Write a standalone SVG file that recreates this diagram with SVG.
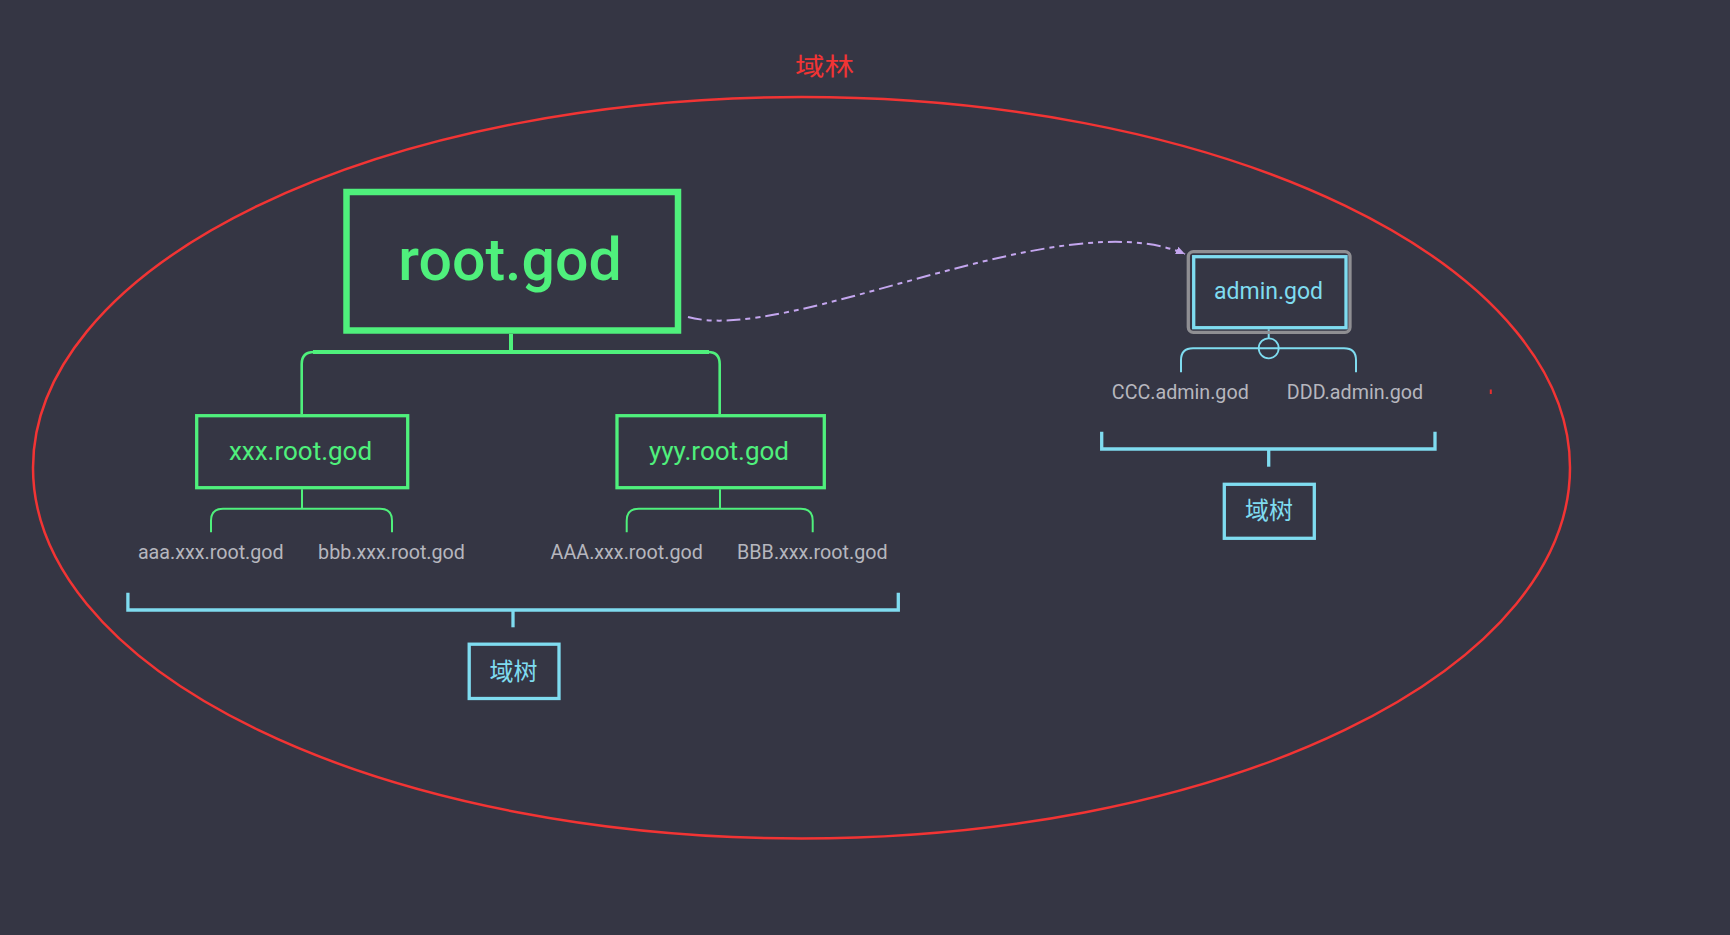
<svg xmlns="http://www.w3.org/2000/svg" width="1730" height="935" viewBox="0 0 1730 935">
  <defs>
    <style>
      .bg { fill: #353644; }
      .g-box { fill: none; stroke: #4ff07c; stroke-width: 3.3; }
      .g-line { fill: none; stroke: #4ff07c; stroke-width: 2; }
      .c-box { fill: none; stroke: #7fdcf0; stroke-width: 3.3; }
      .c-line { fill: none; stroke: #7fdcf0; stroke-width: 2; }
      .c-thick { fill: none; stroke: #7fdcf0; stroke-width: 3.3; }
      .g-text { font-family: Roboto, "Liberation Sans", sans-serif; fill: #4ff07c; text-anchor: middle; }
      .c-text { font-family: Roboto, "Liberation Sans", sans-serif; fill: #7fdcf0; text-anchor: middle; }
      .leaf { font-family: Roboto, "Liberation Sans", sans-serif; font-size: 19.7px; fill: #b6b6be; text-anchor: middle; }
      .cjk { font-family: "Noto Sans CJK SC", sans-serif; text-anchor: middle; }
    </style>
    <marker id="arrow" markerUnits="userSpaceOnUse" markerWidth="12" markerHeight="12" refX="9" refY="4" orient="auto">
      <path d="M0,0 L9,4 L0,8 Z" fill="#c4a6ef"/>
    </marker>
  </defs>

  <rect class="bg" x="0" y="0" width="1730" height="935"/>

  <!-- forest ellipse -->
  <g id="forest">
    <ellipse cx="801.5" cy="467.8" rx="768.5" ry="370.7" fill="none" stroke="#f23434" stroke-width="2.5"/>
    <text class="cjk" x="824.5" y="75" font-size="24" fill="#f23434" textLength="59" lengthAdjust="spacingAndGlyphs">域林</text>
    <rect x="1489.8" y="389.5" width="2" height="4.5" fill="#e83030"/>
  </g>

  <!-- connectors -->
  <g id="connectors">
    <!-- root to children -->
    <line x1="511" y1="334" x2="511" y2="352" stroke="#4ff07c" stroke-width="4"/>
    <line x1="313" y1="352" x2="709" y2="352" stroke="#4ff07c" stroke-width="4"/>
    <path d="M301.7,414 V364 Q301.7,352 314,352" fill="none" stroke="#4ff07c" stroke-width="2.6"/>
    <path d="M719.7,414 V364 Q719.7,352 708,352" fill="none" stroke="#4ff07c" stroke-width="2.6"/>

    <!-- xxx leaves -->
    <line class="g-line" x1="302" y1="489.3" x2="302" y2="508.7"/>
    <path class="g-line" d="M211,532.3 V520.7 Q211,508.7 223,508.7 H380 Q392,508.7 392,520.7 V532.3"/>

    <!-- yyy leaves -->
    <line class="g-line" x1="720" y1="489.3" x2="720" y2="508.7"/>
    <path class="g-line" d="M626.7,532.3 V520.7 Q626.7,508.7 638.7,508.7 H800.7 Q812.7,508.7 812.7,520.7 V532.3"/>

    <!-- admin leaves -->
    <line class="c-line" x1="1268.7" y1="329.3" x2="1268.7" y2="338.3"/>
    <path class="c-line" d="M1181,372.3 V360.3 Q1181,348.3 1193,348.3 H1344 Q1356,348.3 1356,360.3 V372.3"/>
    <circle cx="1268.7" cy="348.3" r="10" fill="none" stroke="#7fdcf0" stroke-width="1.8"/>

    <!-- left tree brace -->
    <path class="c-thick" d="M127.9,592.7 V610 H898.3 V592.7"/>
    <line class="c-thick" x1="513" y1="610" x2="513" y2="627.3"/>

    <!-- right tree brace -->
    <path class="c-thick" d="M1101.7,431.7 V449 H1435 V431.7"/>
    <line class="c-thick" x1="1268.7" y1="449" x2="1268.7" y2="466.7"/>

    <!-- dashed trust link -->
    <path d="M688,317 C790,345 1060,200 1185,254" fill="none" stroke="#c4a6ef" stroke-width="2" stroke-dasharray="14 5 5 5 5 5" marker-end="url(#arrow)"/>
  </g>

  <!-- nodes -->
  <g id="root-god">
    <rect x="346.5" y="192" width="331.5" height="138.5" fill="none" stroke="#4ff07c" stroke-width="6.5"/>
    <text class="g-text" x="510" y="280" font-size="59" font-weight="500">root.god</text>
  </g>

  <g id="xxx-root-god">
    <rect class="g-box" x="196.7" y="415.7" width="211" height="72"/>
    <text class="g-text" x="300.5" y="460" font-size="26">xxx.root.god</text>
  </g>

  <g id="yyy-root-god">
    <rect class="g-box" x="617" y="415.7" width="207.3" height="72"/>
    <text class="g-text" x="719" y="460" font-size="26">yyy.root.god</text>
  </g>

  <g id="leaf-aaa"><text class="leaf" x="210.8" y="559.3">aaa.xxx.root.god</text></g>
  <g id="leaf-bbb"><text class="leaf" x="391.5" y="559.3">bbb.xxx.root.god</text></g>
  <g id="leaf-AAA"><text class="leaf" x="626.7" y="559.3">AAA.xxx.root.god</text></g>
  <g id="leaf-BBB"><text class="leaf" x="812.3" y="559.3">BBB.xxx.root.god</text></g>

  <g id="admin-god">
    <rect x="1188.3" y="251.7" width="161.7" height="80.6" rx="5" ry="5" fill="none" stroke="#8f8f93" stroke-width="3.3"/>
    <rect class="c-box" x="1193.7" y="256.7" width="152.3" height="71"/>
    <text class="c-text" x="1268.5" y="299" font-size="23">admin.god</text>
  </g>

  <g id="leaf-CCC"><text class="leaf" x="1180.3" y="399.3">CCC.admin.god</text></g>
  <g id="leaf-DDD"><text class="leaf" x="1355" y="399.3">DDD.admin.god</text></g>

  <g id="tree-left">
    <rect class="c-box" x="469.2" y="644.2" width="89.8" height="54.3"/>
    <text class="cjk" x="513.5" y="679.5" font-size="24" fill="#7fdcf0">域树</text>
  </g>

  <g id="tree-right">
    <rect class="c-box" x="1224.3" y="484.3" width="90" height="54"/>
    <text class="cjk" x="1269" y="519.2" font-size="24" fill="#7fdcf0">域树</text>
  </g>
</svg>
